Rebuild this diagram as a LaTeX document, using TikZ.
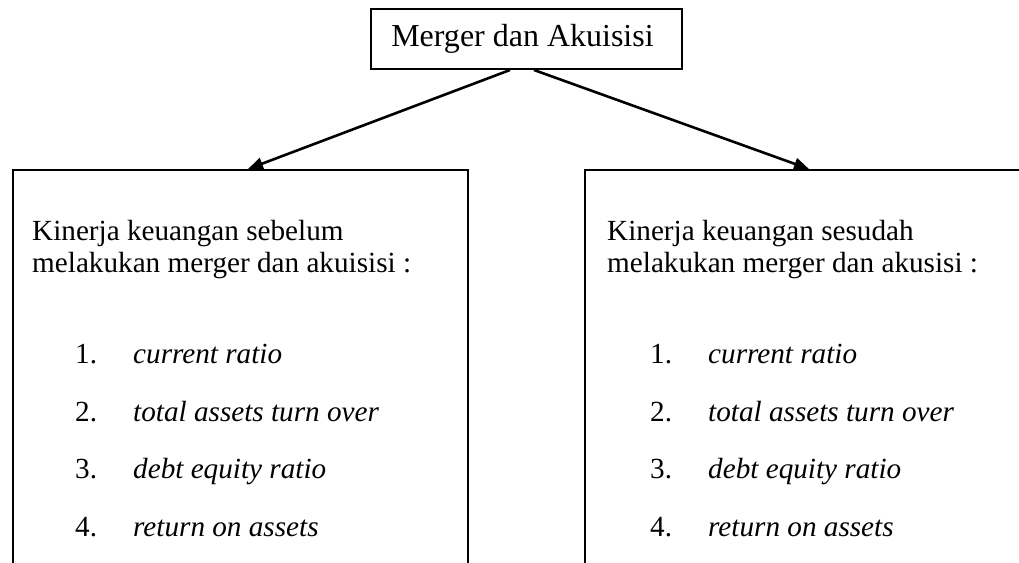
\documentclass[tikz,border=0pt]{standalone}
\usepackage{fontspec}
\setmainfont{Liberation Serif}
\usetikzlibrary{arrows.meta, positioning}

\tikzset{
  kotak/.style={draw, rectangle, inner sep=0pt, line width=2pt},
  panah/.style={-{Triangle[length=15pt,width=12pt]}, line width=2.6pt},
  teks/.style={anchor=base west, inner sep=0pt, font=\fontsize{29.2}{34}\selectfont}
}

\begin{document}
\begin{tikzpicture}[x=1pt, y=-1pt]
  \useasboundingbox (0,0) rectangle (1019,562);
  \clip (0,0) rectangle (1019,562);

  \node[kotak, minimum width=311pt, minimum height=60pt,
        font=\fontsize{32}{36}\selectfont] (merger) at (526.5,39) {Merger dan Akuisisi\hspace*{8pt}};

  \node[kotak, minimum width=455pt, minimum height=420pt, anchor=north west] (sebelum) at (12,169) {};
  \node[kotak, minimum width=455pt, minimum height=420pt, anchor=north west] (sesudah) at (584,169) {};

  \draw[panah] ([xshift=-16.5pt]merger.south) -- ([xshift=7.5pt]sebelum.north);
  \draw[panah] ([xshift=7.5pt]merger.south) -- ([xshift=-3.5pt]sesudah.north);

  % judul isi kotak
  \node[teks] (ja) at (32,240) {Kinerja keuangan sebelum};
  \node[teks] (jb) at (32,272) {melakukan merger dan akuisisi :};
  \node[teks] (jc) at (607,240) {Kinerja keuangan sesudah};
  \node[teks] (jd) at (607,272) {melakukan merger dan akusisi :};

  % daftar rasio
  \foreach \bx in {0,575}
    \foreach \i/\rasio/\y in {1/current ratio/363, 2/total assets turn over/421,
                              3/debt equity ratio/478, 4/return on assets/536} {
      \node[teks] (no-\i-\bx) at (75+\bx,\y) {\i.};
      \node[teks] (rasio-\i-\bx) at (133+\bx,\y) {\itshape \rasio};
    }
\end{tikzpicture}
\end{document}
